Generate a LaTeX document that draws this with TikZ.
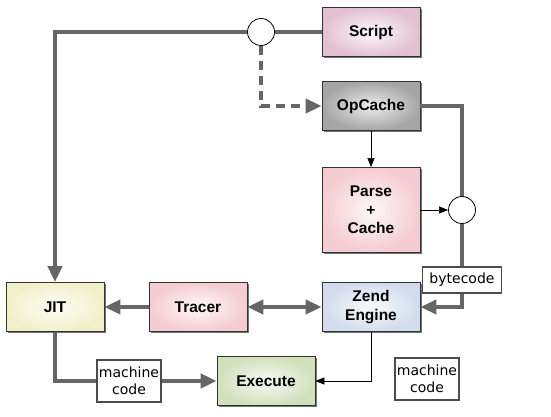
\documentclass[tikz,border=0pt]{standalone}
\usepackage{fontspec}
\setmainfont{Liberation Sans}
\newfontfamily\tagfont{DejaVu Sans}
\usetikzlibrary{positioning, shapes, shadows, arrows.meta}

\definecolor{scriptpink}{RGB}{226,192,208}
\definecolor{cachegray}{RGB}{165,165,165}
\definecolor{parsepink}{RGB}{244,204,210}
\definecolor{zendblue}{RGB}{210,220,236}
\definecolor{jityellow}{RGB}{242,240,202}
\definecolor{execgreen}{RGB}{210,224,188}

\begin{document}
\begin{tikzpicture}[x=1pt, y=1pt, on grid,
    >={Triangle[length=16pt,width=14pt]},
    block/.style={draw=black!80, line width=0.8pt, minimum width=98pt, minimum height=49pt,
        align=center, font=\bfseries\fontsize{15.5}{18.5}\selectfont,
        drop shadow={shadow xshift=1.5pt, shadow yshift=-1.5pt, fill=black, opacity=0.55}},
    pipe/.style={draw=black!60, line width=4pt},
    link/.style={draw=black, line width=0.6pt, -{Triangle[length=9pt,width=7pt]}},
    tag/.style={draw=black!70, fill=white, line width=1.2pt, align=center, inner sep=2pt,
        font=\tagfont\fontsize{14}{16.5}\selectfont},
    junction/.style={circle, draw=black, fill=white, minimum size=27pt, line width=0.8pt}]

    \useasboundingbox (0,0) rectangle (551,417);

    \node[block, shade, inner color=white!90!scriptpink, outer color=scriptpink] (Script) at (371,385) {Script};
    \node[block, shade, inner color=white!80!cachegray, outer color=cachegray, below=74pt of Script] (OpCache) {OpCache};
    \node[block, shade, inner color=white!85!parsepink, outer color=parsepink, minimum height=85pt, below=104pt of OpCache] (Parse) {Parse\\+\\Cache};
    \node[block, shade, inner color=white!85!zendblue, outer color=zendblue, below=97pt of Parse] (Zend) {Zend\\Engine};
    \node[block, shade, inner color=white!85!parsepink, outer color=parsepink, left=173pt of Zend] (Tracer) {Tracer};
    \node[block, shade, inner color=white!85!jityellow, outer color=jityellow, left=143pt of Tracer] (JIT) {JIT};
    \node[block, shade, inner color=white!85!execgreen, outer color=execgreen, below right=74pt and 211pt of JIT] (Execute) {Execute};

    \node[junction, left=110pt of Script] (Split) {};
    \node[junction, right=91pt of Parse] (Join) {};

    % thick data paths
    \draw[pipe] (Script) -- (Split);
    \draw[pipe, ->] (Split) -| (JIT);
    \draw[pipe, dash pattern=on 9pt off 6pt, ->] (Split) |- (OpCache);
    \draw[pipe] (OpCache) -| (Join);
    \draw[pipe, ->] (Join) |- (Zend);
    \draw[pipe, <->] (Tracer) -- (Zend);
    \draw[pipe, ->] (Tracer) -- (JIT);
    \draw[pipe, ->] (JIT) |- (Execute);

    % thin control paths
    \draw[link] (OpCache) -- (Parse);
    \draw[link] (Parse) -- (Join);
    \draw[link] (Zend) |- (Execute);

    % labels on the paths
    \node[tag, minimum width=79pt, minimum height=26pt, below=70pt of Join] (Bytecode) {bytecode};
    \node[tag, minimum width=64pt, minimum height=42pt] (CodeA) at (129,36) {machine\\code};
    \node[tag, minimum width=64pt, minimum height=42pt] (CodeB) at (427,38) {machine\\code};
\end{tikzpicture}
\end{document}
